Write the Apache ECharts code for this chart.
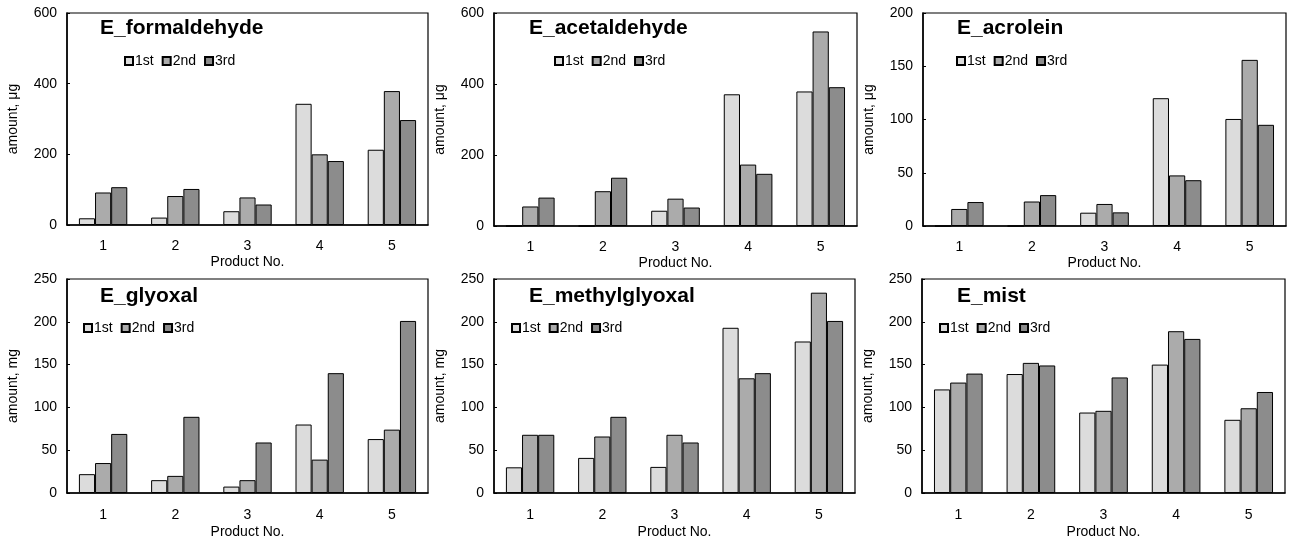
<!DOCTYPE html>
<html>
<head>
<meta charset="utf-8">
<script src="https://cdn.jsdelivr.net/npm/echarts@6/dist/echarts.min.js"></script>
<style>
  html, body { margin: 0; padding: 0; background: #fff; }
  #chart { width: 1297px; height: 542px; }
</style>
</head>
<body>
<div id="chart"></div>
<script>
// Product numbers on the x axis
const categories = ['1', '2', '3', '4', '5'];
const runNames = ['1st', '2nd', '3rd'];

// Emitted amounts per product, three consecutive runs
const formaldehyde1st = [19, 21, 39, 343, 213];
const formaldehyde2nd = [92, 82, 78, 200, 379];
const formaldehyde3rd = [107, 102, 58, 181, 297];

const acetaldehyde1st = [0, 0, 43, 371, 379];
const acetaldehyde2nd = [55, 98, 77, 173, 548];
const acetaldehyde3rd = [80, 136, 52, 147, 391];

const acrolein1st = [0, 0, 12.5, 120, 100.5];
const acrolein2nd = [16, 23, 20.7, 47.5, 156];
const acrolein3rd = [22.5, 29, 12.8, 43, 95];

const glyoxal1st = [22, 15, 7.5, 80, 63];
const glyoxal2nd = [35, 20, 15, 39, 74];
const glyoxal3rd = [69, 89, 59, 140, 201];

const methylglyoxal1st = [30, 41, 30.5, 193, 177];
const methylglyoxal2nd = [68, 66, 68, 134, 234];
const methylglyoxal3rd = [68, 89, 59, 140, 201];

const mist1st = [121, 139, 94, 150, 85.5];
const mist2nd = [129, 152, 96, 189, 99];
const mist3rd = [139.5, 149, 135, 180, 118];

// Panel titles, y-axis units and scales
const panelTitles = ['E_formaldehyde', 'E_acetaldehyde', 'E_acrolein', 'E_glyoxal', 'E_methylglyoxal', 'E_mist'];
const yAxisNames = ['amount, μg', 'amount, μg', 'amount, μg', 'amount, mg', 'amount, mg', 'amount, mg'];
const yMax = [600, 600, 200, 250, 250, 250];
const yInterval = [200, 200, 50, 50, 50, 50];

const panelData = [
  [formaldehyde1st, formaldehyde2nd, formaldehyde3rd],
  [acetaldehyde1st, acetaldehyde2nd, acetaldehyde3rd],
  [acrolein1st, acrolein2nd, acrolein3rd],
  [glyoxal1st, glyoxal2nd, glyoxal3rd],
  [methylglyoxal1st, methylglyoxal2nd, methylglyoxal3rd],
  [mist1st, mist2nd, mist3rd]
];

// Layout of the six plot boxes
const grids = [
  { left: 67,  top: 13,  width: 361, height: 212 },
  { left: 494, top: 13,  width: 363, height: 213 },
  { left: 923, top: 13,  width: 363, height: 213 },
  { left: 67,  top: 279, width: 361, height: 214 },
  { left: 494, top: 279, width: 361, height: 214 },
  { left: 922, top: 279, width: 363, height: 214 }
];
const titlePos = [[100, 18], [529, 18], [957, 18], [100, 286], [529, 286], [957, 286]];
const legendPos = [[124, 54], [554, 54], [956, 54], [83, 321], [511, 321], [939, 321]];

const runColors = ['#dcdcdc', '#ababab', '#8c8c8c'];
const font = 'Arial, "Liberation Sans", sans-serif';

const option = {
  backgroundColor: '#fff',
  animation: false,
  textStyle: { fontFamily: font, color: '#000' },
  grid: grids.map(g => Object.assign({
    show: true, borderColor: '#000', borderWidth: 1.2, backgroundColor: 'transparent',
    containLabel: false
  }, g)),
  title: panelTitles.map((t, i) => ({
    text: t, left: titlePos[i][0], top: titlePos[i][1], padding: 0,
    textStyle: { fontFamily: font, fontSize: 21, fontWeight: 'bold', color: '#000' }
  })),
  legend: legendPos.map(p => ({
    data: runNames, left: p[0], top: p[1], padding: 0,
    itemWidth: 8, itemHeight: 8, itemGap: 8, icon: 'rect',
    textStyle: { fontFamily: font, fontSize: 14, color: '#000', padding: [0, 0, 0, -3] },
    selectedMode: false
  })),
  xAxis: grids.map((g, i) => ({
    type: 'category', gridIndex: i, data: categories,
    boundaryGap: true,
    name: 'Product No.', nameLocation: 'middle', nameGap: i < 3 ? 30 : 32,
    nameTextStyle: { fontFamily: font, fontSize: 14, color: '#000' },
    axisLine: { lineStyle: { color: '#000', width: 1.5 } },
    axisTick: { inside: true, length: 4, lineStyle: { color: '#000', width: 1.5 } },
    axisLabel: { fontFamily: font, fontSize: 14, color: '#000', margin: i < 3 ? 14 : 15 },
    splitLine: { show: false }
  })),
  yAxis: grids.map((g, i) => ({
    type: 'value', gridIndex: i, min: 0, max: yMax[i], interval: yInterval[i],
    name: yAxisNames[i], nameLocation: 'middle', nameGap: 47,
    nameTextStyle: { fontFamily: font, fontSize: 14, color: '#000' },
    axisLine: { show: true, lineStyle: { color: '#000', width: 1.5 } },
    axisTick: { show: true, inside: true, length: 3, lineStyle: { color: '#000' } },
    axisLabel: { fontFamily: font, fontSize: 14, color: '#000', margin: 10 },
    splitLine: { show: false }
  })),
  series: []
};

panelData.forEach((runs, i) => {
  runs.forEach((values, r) => {
    option.series.push({
      type: 'bar', name: runNames[r], xAxisIndex: i, yAxisIndex: i,
      data: values,
      barGap: '0%', barCategoryGap: '33%',
      itemStyle: { color: runColors[r], borderColor: '#000', borderWidth: 1 }
    });
  });
});

const chart = echarts.init(document.getElementById('chart'), null, { renderer: 'canvas' });
chart.setOption(option);
</script>
</body>
</html>
